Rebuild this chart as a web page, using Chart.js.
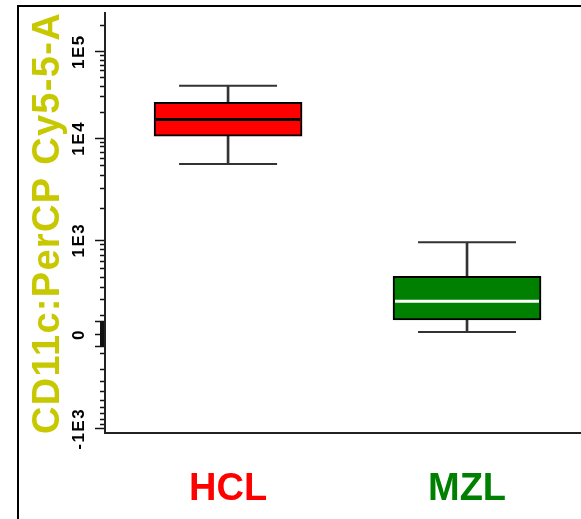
<!DOCTYPE html>
<html>
<head>
<meta charset="utf-8">
<script src="https://cdn.jsdelivr.net/npm/chart.js"></script>
<style>
  html, body { margin: 0; padding: 0; background: #fff; overflow: hidden; }
  #wrap { position: relative; width: 581px; height: 519px; }
</style>
</head>
<body>
<div id="wrap"><canvas id="c"></canvas></div>
<script>
// ---------------- data ----------------
const categories   = ['HCL', 'MZL'];
const whiskerLow   = [5220, 13];
const quartile1    = [10600, 76];
const medians      = [16500, 190];
const quartile3    = [25900, 410];
const whiskerHigh  = [40300, 950];

const majorTickValues = [-1000, 0, 1000, 10000, 100000];
const majorTickLabels = ['-1E3', '0', '1E3', '1E4', '1E5'];
const minorTickValues = [
  -900, -800, -700, -600, -500, -400, -300, -200, -100,
  100, 200, 300, 400, 500, 600, 700, 800, 900,
  2000, 3000, 4000, 5000, 6000, 7000, 8000, 9000,
  20000, 30000, 40000, 50000, 60000, 70000, 80000, 90000,
  200000
];
// dense marks of the zero region of the biexponential axis
const zeroBandEdges = [-65, 65];
const zeroBandTicks = [-55, -45, -35, -25, -15, -5, 5, 15, 25, 35, 45, 55];
const axisTitle = 'CD11c:PerCP Cy5-5-A';

// ---------------- styles ----------------
const boxColors    = ['#ff0000', '#008000'];
const medianColors = ['#000000', '#ffffff'];
const labelColors  = ['#ff0000', '#008000'];
const titleColor   = '#c8c800';
const FONT = "'Liberation Sans', Arial, Helvetica, sans-serif";

// ---------------- biexponential-like scale ----------------
const BX_C1 = 200, BX_K = 0.6175, BX_C2 = 3000;
function bxT(v) { return Math.asinh(v / BX_C1) + BX_K * Math.tanh(v / BX_C2); }
const longTick = v => majorTickValues.includes(v) || zeroBandEdges.includes(v);

class BiexScale extends Chart.Scale {
  static id = 'biex';
  static defaults = {};
  parse(raw) { return (raw === null || raw === undefined || isNaN(+raw)) ? null : +raw; }
  determineDataLimits() { this.min = this.options.min; this.max = this.options.max; }
  buildTicks() {
    const all = majorTickValues.concat(minorTickValues, zeroBandEdges, zeroBandTicks).sort((a, b) => a - b);
    return all.map(v => ({ value: v, major: majorTickValues.includes(v) }));
  }
  configure() {
    super.configure();
    this._t0 = bxT(this.min);
    this._t1 = bxT(this.max);
  }
  getPixelForValue(v) {
    return this.getPixelForDecimal((bxT(v) - this._t0) / (this._t1 - this._t0));
  }
  getValueForPixel(p) {
    const t = this._t0 + this.getDecimalForPixel(p) * (this._t1 - this._t0);
    let lo = this.min, hi = this.max;
    for (let i = 0; i < 80; i++) { const m = (lo + hi) / 2; if (bxT(m) < t) lo = m; else hi = m; }
    return (lo + hi) / 2;
  }
  getLabelForValue(v) { return String(v); }
  drawLabels(area) {
    const ctx = this.ctx; ctx.save(); ctx.letterSpacing = '1.5px';
    super.drawLabels(area); ctx.restore();
  }
  drawTitle() {
    const ctx = this.ctx; ctx.save(); ctx.letterSpacing = '1.3px';
    super.drawTitle(); ctx.restore();
  }
}
Chart.register(BiexScale);

const framePlugin = {
  id: 'frame',
  beforeDraw(chart) {
    const ctx = chart.ctx;
    ctx.save();
    ctx.fillStyle = '#ffffff';
    ctx.fillRect(0, 0, chart.width, chart.height);
    ctx.strokeStyle = '#000000';
    ctx.lineWidth = 2;
    ctx.strokeRect(18, 6, 1000, 1000);
    ctx.restore();
  }
};

const pts = arr => categories.map((c, i) => ({ x: i, y: arr[i] }));

new Chart(document.getElementById('c'), {
  type: 'bar',
  data: {
    datasets: [
      { type: 'bar', label: 'whisker', order: 4, grouped: false,
        data: categories.map((c, i) => ({ x: i, y: [whiskerLow[i], whiskerHigh[i]] })),
        barThickness: 2, backgroundColor: '#333333', borderWidth: 0 },
      { type: 'bar', label: 'box', order: 3, grouped: false,
        data: categories.map((c, i) => ({ x: i, y: [quartile1[i], quartile3[i]] })),
        barThickness: 148, backgroundColor: boxColors, borderColor: '#000000',
        borderWidth: 2, borderSkipped: false },
      { type: 'line', label: 'caps', order: 2, showLine: false, clip: false,
        data: pts(whiskerLow).concat(pts(whiskerHigh)),
        pointStyle: 'line', pointRadius: 49, pointBorderWidth: 2, pointBorderColor: '#333333' },
      { type: 'line', label: 'median', order: 1, showLine: false, clip: false,
        data: pts(medians),
        pointStyle: 'line', pointRadius: 72, pointBorderWidth: 3, pointBorderColor: medianColors }
    ]
  },
  options: {
    responsive: true,
    maintainAspectRatio: false,
    devicePixelRatio: 1,
    animation: false,
    events: [],
    layout: { autoPadding: false, padding: { left: 0, top: 13, right: 0, bottom: 0 } },
    plugins: { legend: { display: false }, tooltip: { enabled: false } },
    scales: {
      x: {
        type: 'linear', position: 'bottom', offset: false,
        min: -0.515, max: 1.477,
        afterBuildTicks: s => { s.ticks = categories.map((c, i) => ({ value: i })); },
        afterFit: s => { s.height = 86; },
        grid: { display: false, drawTicks: false, offset: false },
        border: { display: true, color: '#222222', width: 2 },
        ticks: {
          autoSkip: false, padding: 34, maxRotation: 0,
          callback: v => categories[v],
          color: c => labelColors[c.tick ? c.tick.value : c.index] || '#000',
          font: { family: FONT, size: 38, weight: 'bold' }
        }
      },
      y: {
        type: 'biex', position: 'left',
        min: -1100, max: 280000,
        afterFit: s => { s.width = 105; },
        grid: {
          display: true, drawOnChartArea: false, drawTicks: true,
          tickLength: 10, tickColor: '#111111', lineWidth: 1,
          tickWidth: c => (c.tick && zeroBandTicks.includes(c.tick.value)) ? 3 : 1.5,
          tickBorderDash: c => (c.tick && longTick(c.tick.value)) ? [] : [0, 5, 6, 100]
        },
        border: { display: true, color: '#222222', width: 2 },
        ticks: {
          autoSkip: false, padding: -2, minRotation: 90, maxRotation: 90,
          crossAlign: 'center', color: '#000000',
          callback: v => { const k = majorTickValues.indexOf(v); return k >= 0 ? majorTickLabels[k] : ''; },
          font: { family: FONT, size: 17, weight: 'bold' }
        },
        title: {
          display: true, text: axisTitle, color: titleColor,
          font: { family: FONT, size: 38, weight: 'bold' },
          padding: { top: 26, bottom: 0 }
        }
      }
    }
  },
  plugins: [framePlugin]
});
</script>
</body>
</html>
